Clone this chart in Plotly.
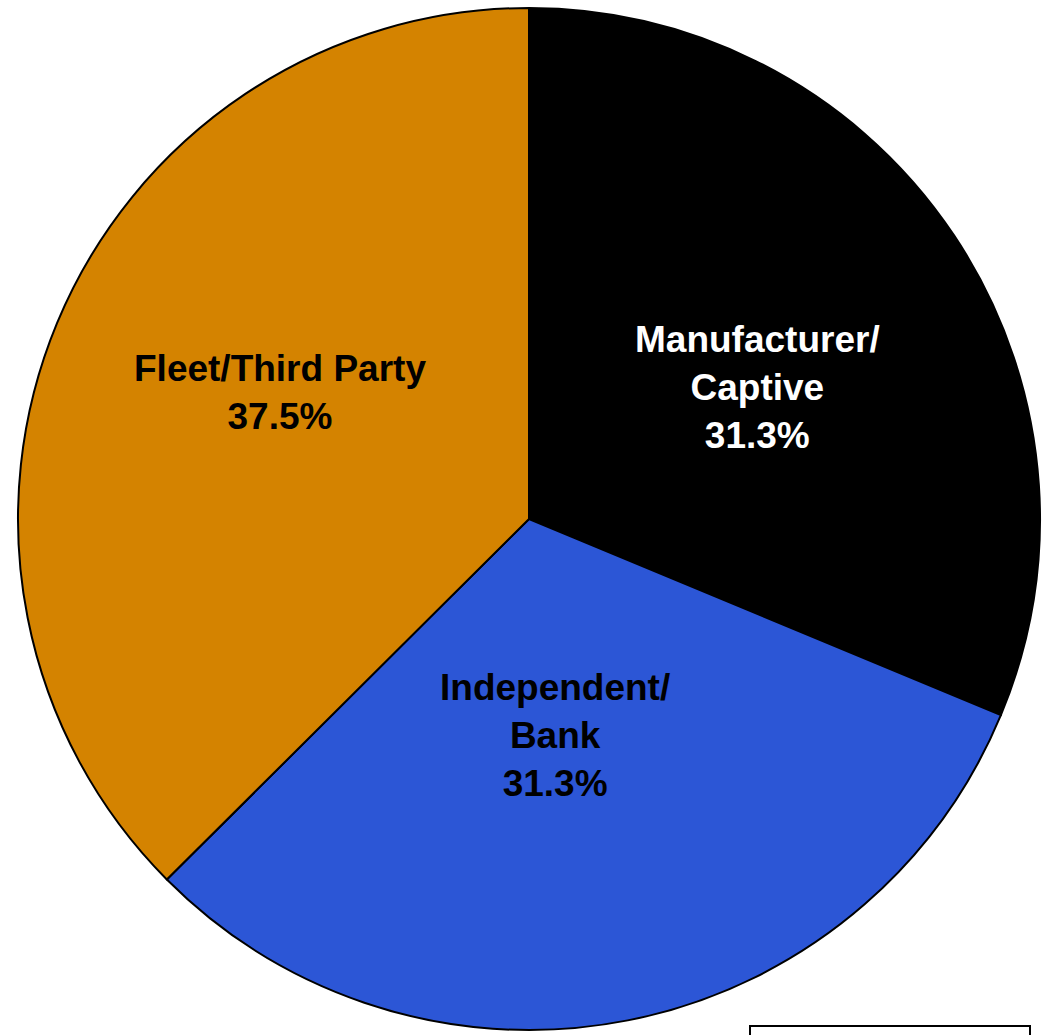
import plotly.graph_objects as go

# Data
categories = ["Manufacturer/<br>Captive", "Independent/<br>Bank", "Fleet/Third Party"]
shares = [31.3, 31.3, 37.5]
slice_colors = ["#000000", "#2C56D6", "#D48300"]
label_colors = ["#FFFFFF", "#000000", "#000000"]
label_pos = [(757, 387), (555, 735), (280, 392)]  # label centres in pixels

W, H = 1045, 1035
fig = go.Figure()
fig.add_trace(go.Pie(
    labels=categories,
    values=shares,
    sort=False,
    direction="clockwise",
    rotation=0,
    marker=dict(colors=slice_colors, line=dict(color="#000000", width=2)),
    textinfo="none",
    hoverinfo="label+value",
    showlegend=False,
    domain=dict(x=[18 / W, 1040 / W], y=[1 - 1030 / H, 1 - 8 / H]),
))

for cat, val, col, (px, py) in zip(categories, shares, label_colors, label_pos):
    fig.add_annotation(
        x=px / W, y=1 - py / H, xref="paper", yref="paper",
        xanchor="center", yanchor="middle",
        text=f"<b>{cat}<br>{val:.1f}%</b>",
        showarrow=False, align="center",
        font=dict(family="Liberation Sans, Arial, sans-serif", size=37, color=col),
    )

# partial box at bottom right
fig.add_shape(type="rect", xref="paper", yref="paper",
              x0=750 / W, x1=1030 / W, y0=-0.05, y1=1 - 1026 / H,
              line=dict(color="#000000", width=2), fillcolor="rgba(0,0,0,0)")

fig.update_layout(
    width=W, height=H,
    margin=dict(l=0, r=0, t=0, b=0),
    paper_bgcolor="#FFFFFF", plot_bgcolor="#FFFFFF",
)
fig.write_html("out.html", config={"displayModeBar": False},
               post_script="document.body.style.margin='0px';document.body.style.overflow='hidden';")
